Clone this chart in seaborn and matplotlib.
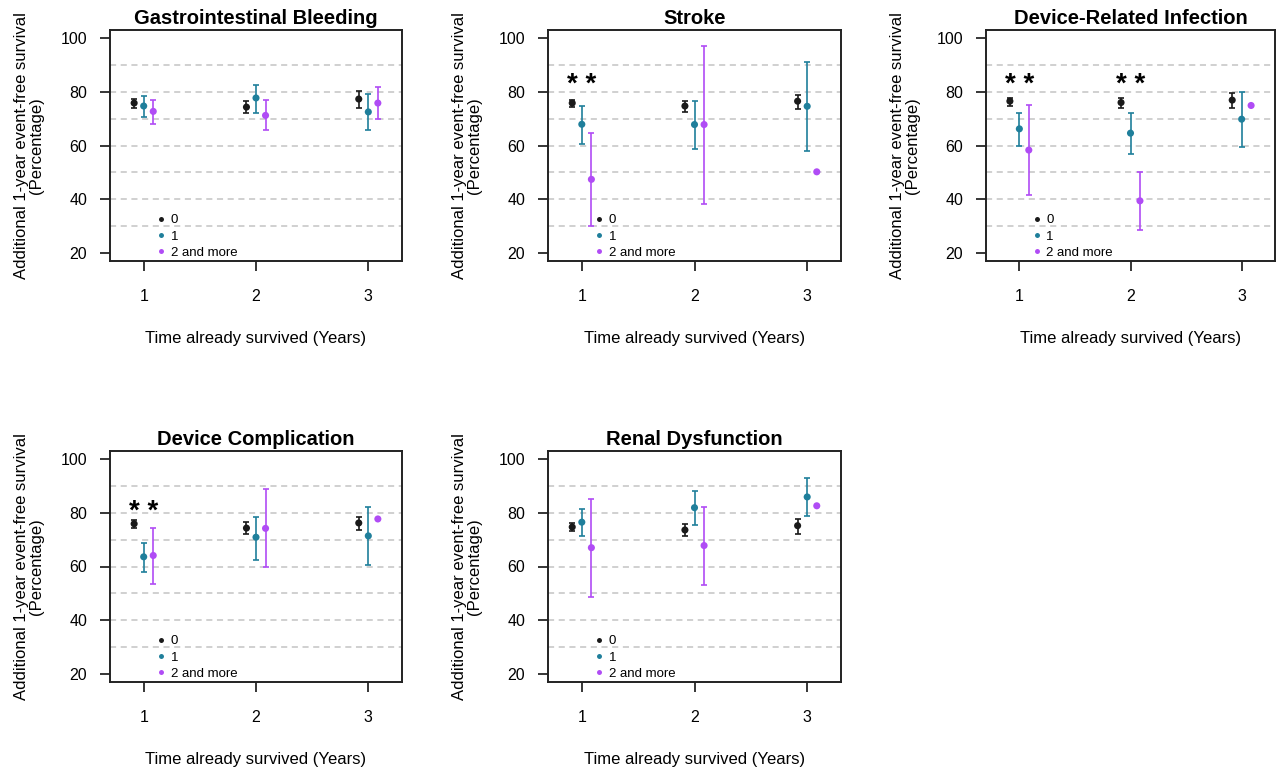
import numpy as np
import pandas as pd
import matplotlib
matplotlib.use("Agg")
import matplotlib.pyplot as plt
import seaborn as sns

nan = np.nan

YEARS = [1, 2, 3]
GROUPS = ["0", "1", "2 and more"]
COLORS = ["#1a1a1a", "#1f7f9b", "#b04cf5"]
TITLES = ["Gastrointestinal Bleeding", "Stroke", "Device-Related Infection",
          "Device Complication", "Renal Dysfunction"]

# rows = group (0, 1, 2 and more), columns = year already survived
gi_est = [[75.8, 74.3, 77.3], [74.7, 77.7, 72.5], [72.7, 71.2, 75.8]]
gi_lo = [[74.0, 72.0, 74.0], [70.5, 72.0, 65.7], [68.0, 65.7, 69.8]]
gi_hi = [[77.4, 76.5, 80.4], [78.4, 82.5, 79.1], [77.0, 77.0, 81.6]]

stroke_est = [[75.8, 74.7, 76.5], [67.9, 67.8, 74.6], [47.4, 67.8, 50.2]]
stroke_lo = [[74.3, 72.5, 73.7], [60.7, 58.6, 57.8], [30.2, 38.3, nan]]
stroke_hi = [[77.0, 76.7, 78.9], [74.8, 76.7, 91.0], [64.6, 97.2, nan]]

dri_est = [[76.5, 76.0, 76.9], [66.2, 64.6, 69.8], [58.3, 39.4, 74.9]]
dri_lo = [[74.7, 74.0, 74.0], [60.0, 56.9, 59.4], [41.6, 28.5, nan]]
dri_hi = [[77.7, 77.8, 79.4], [72.1, 72.0, 80.1], [75.1, 50.0, nan]]

dc_est = [[75.9, 74.3, 76.2], [63.6, 70.9, 71.4], [64.1, 74.2, 77.7]]
dc_lo = [[74.2, 72.1, 73.5], [58.0, 62.6, 60.4], [53.6, 59.8, nan]]
dc_hi = [[77.3, 76.4, 78.6], [68.8, 78.5, 82.0], [74.2, 88.8, nan]]

renal_est = [[74.7, 73.6, 75.2], [76.5, 81.9, 85.9], [67.0, 67.8, 82.6]]
renal_lo = [[73.1, 71.4, 72.2], [71.5, 75.6, 78.9], [48.6, 53.0, nan]]
renal_hi = [[76.2, 75.7, 77.8], [81.5, 88.0, 92.8], [85.1, 82.1, nan]]

# significance marks (years) and their heights per panel
stroke_stars = [1]
dri_stars = [1, 2]
dc_stars = [1]
star_heights = [None, 86.0, 86.0, 83.8, None]

PANEL_DATA = [
    (gi_est, gi_lo, gi_hi, []),
    (stroke_est, stroke_lo, stroke_hi, stroke_stars),
    (dri_est, dri_lo, dri_hi, dri_stars),
    (dc_est, dc_lo, dc_hi, dc_stars),
    (renal_est, renal_lo, renal_hi, []),
]

# long table
rows = []
for title, (est, lo, hi, _) in zip(TITLES, PANEL_DATA):
    for gi, g in enumerate(GROUPS):
        for yi, yr in enumerate(YEARS):
            rows.append({"panel": title, "group": g, "year": yr,
                         "est": est[gi][yi], "lo": lo[gi][yi], "hi": hi[gi][yi]})
df = pd.DataFrame(rows)
OFFSET = {"0": -0.085, "1": 0.0, "2 and more": 0.085}
df["xpos"] = df["year"] + df["group"].map(OFFSET)

sns.set_style("white")
plt.rcParams["font.family"] = ["Liberation Sans", "DejaVu Sans"]
plt.rcParams["text.color"] = "black"
plt.rcParams["axes.labelcolor"] = "black"
plt.rcParams["xtick.color"] = "black"
plt.rcParams["ytick.color"] = "black"

W, H = 1282, 771
fig = plt.figure(figsize=(W / 100, H / 100), dpi=100)

# axes boxes in pixels: left, top, width, height
BOXES = [(110, 30, 292, 231), (548, 30, 293, 231), (986, 30, 289, 231),
         (110, 451, 292, 231), (548, 451, 293, 231)]

for i, title in enumerate(TITLES):
    l, t, w, h = BOXES[i]
    ax = fig.add_axes([l / W, 1 - (t + h) / H, w / W, h / H])
    sub = df[df["panel"] == title]

    ax.set_xlim(0.7, 3.3)
    ax.set_ylim(17, 103)
    ax.hlines([30, 40, 50, 60, 70, 80, 90], 0.7, 3.3, colors="#c4c4c4",
              linestyles=(0, (4, 3)), linewidth=1.1, zorder=0)

    for g, c in zip(GROUPS, COLORS):
        s = sub[(sub["group"] == g) & sub["lo"].notna()]
        ax.errorbar(s["xpos"], s["est"],
                    yerr=[s["est"] - s["lo"], s["hi"] - s["est"]],
                    fmt="none", ecolor=c, elinewidth=1.2, capsize=2.5,
                    capthick=1.2, zorder=2)

    sns.scatterplot(data=sub, x="xpos", y="est", hue="group", hue_order=GROUPS,
                    palette=COLORS, s=26, edgecolor="none", ax=ax, zorder=3)

    handles, labels = ax.get_legend_handles_labels()
    ax.legend(handles, labels, loc="lower left", bbox_to_anchor=(0.12, -0.025),
              frameon=False, fontsize=9.5, markerscale=0.7, handletextpad=0.15,
              labelspacing=0.3, borderaxespad=0.2, handlelength=1.2)

    est, lo, hi, stars = PANEL_DATA[i]
    for yr in stars:
        ax.text(yr, star_heights[i] - 6.2, "* *", ha="center", va="baseline",
                fontsize=20, fontweight="bold")

    ax.set_xticks(YEARS)
    ax.set_xticklabels([str(y) for y in YEARS])
    ax.set_yticks([20, 40, 60, 80, 100])
    ax.tick_params(direction="out", length=7.5, width=1.1, labelsize=11.5,
                   bottom=True, left=True)
    ax.tick_params(axis="x", pad=13)
    ax.tick_params(axis="y", pad=9)
    for sp in ax.spines.values():
        sp.set_color("#222222")
        sp.set_linewidth(1.4)

    ax.set_title(title, fontsize=14.5, fontweight="bold", pad=4.5)
    ax.set_xlabel("Time already survived (Years)", fontsize=12, labelpad=19)
    ax.set_ylabel("Additional 1-year event-free survival\n(Percentage)",
                  fontsize=12, labelpad=12, linespacing=1.0)

fig.savefig("out.png", dpi=100, facecolor="white")
